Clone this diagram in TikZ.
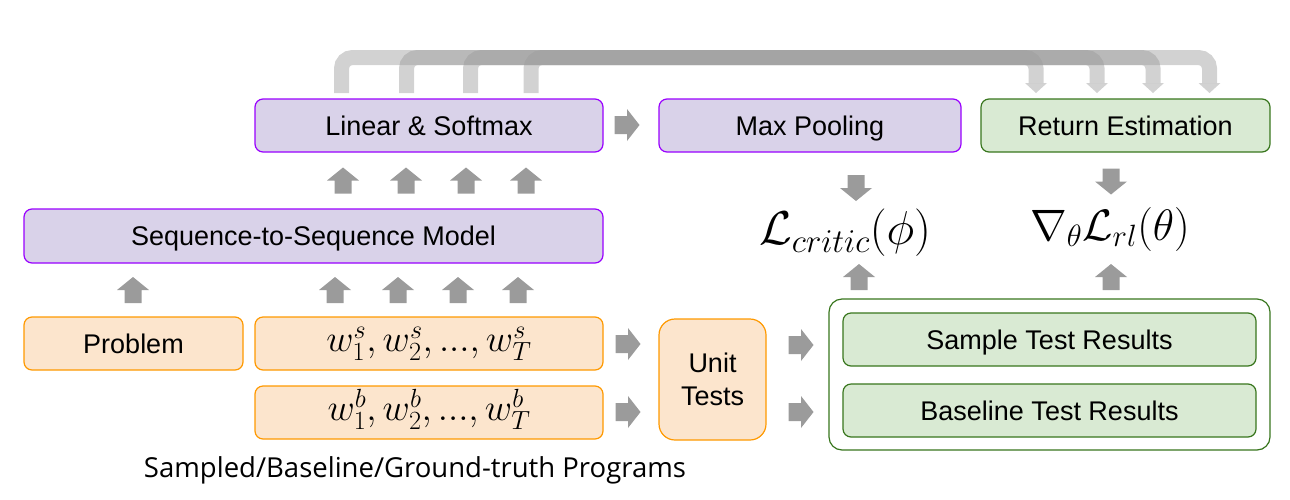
\RequirePackage{fix-cm}
\documentclass[tikz,border=0pt]{standalone}
\usepackage[no-math]{fontspec}
\setmainfont{Liberation Sans}
\newfontfamily\capfont{Open Sans}
\usetikzlibrary{calc}
\definecolor{purfill}{HTML}{D9D2E9}
\definecolor{purdraw}{HTML}{9900FF}
\definecolor{orfill}{HTML}{FCE5CD}
\definecolor{ordraw}{HTML}{FF9900}
\definecolor{grfill}{HTML}{D9EAD3}
\definecolor{grdraw}{HTML}{38761D}
\definecolor{arrgray}{HTML}{9B9B9B}
\tikzset{
  box/.style={draw, line width=1.2pt, rounded corners=8pt, inner sep=0pt,
    font=\fontsize{27}{32}\selectfont, text height=19.3pt, text depth=0pt},
  purbox/.style={box, fill=purfill, draw=purdraw},
  orbox/.style={box, fill=orfill, draw=ordraw},
  grbox/.style={box, fill=grfill, draw=grdraw},
  mathbox/.style={orbox, font=\fontsize{37.5}{43}\selectfont, text height=19.7pt, text depth=3.4pt},
  bigmath/.style={inner sep=0pt},
  archline/.style={draw=arrgray, draw opacity=0.45, line width=15pt, rounded corners=11pt},
  archhead/.style={fill=arrgray, fill opacity=0.45},
  uarr/.pic={\fill[arrgray] (-8.5,13) -- (-8.5,0) -- (-16,0) -- (0,-13) -- (16,0) -- (8.5,0) -- (8.5,13) -- cycle;},
  darr/.pic={\fill[arrgray] (-8.5,-13) -- (-8.5,0) -- (-16,0) -- (0,13) -- (16,0) -- (8.5,0) -- (8.5,-13) -- cycle;},
  rarr/.pic={\fill[arrgray] (-12.5,-9) -- (0,-9) -- (0,-16) -- (12.5,0) -- (0,16) -- (0,9) -- (-12.5,9) -- cycle;},
}
\begin{document}
\begin{tikzpicture}[x=1pt,y=-1pt]
\useasboundingbox (0,0) rectangle (1290,499);
% boxes
\node[purbox, minimum width=348pt, minimum height=53pt] (lin) at (429,125.5) {Linear \& Softmax};
\node[purbox, minimum width=302pt, minimum height=53pt] (maxp) at (810,125.5) {Max Pooling};
\node[grbox, minimum width=289pt, minimum height=53pt] (ret) at (1125.5,125.5) {Return Estimation};
\node[purbox, minimum width=579pt, minimum height=54pt] (seq) at (313.5,236) {Sequence-to-Sequence Model};
\node[orbox, minimum width=219pt, minimum height=53pt] (prob) at (133.5,343.5) {Problem};
\node[mathbox, minimum width=348pt, minimum height=53pt] (ws) at (429,343.5) {$w_1^s, w_2^s, ..., w_T^s$};
\node[mathbox, minimum width=348pt, minimum height=53pt] (wb) at (429,412.5) {$w_1^b, w_2^b, ..., w_T^b$};
\node[orbox, minimum width=107pt, minimum height=121pt, align=center, text height=, text depth=, rounded corners=16pt, font=\fontsize{27}{33.5}\selectfont] (unit) at (712.5,379.5) {Unit\\Tests};
\node[draw=grdraw, line width=1.2pt, fill=white, rounded corners=13pt, minimum width=441pt, minimum height=151pt, inner sep=0pt] (outer) at (1049.5,374.5) {};
\node[grbox, minimum width=413pt, minimum height=53pt] (samp) at (1049.5,339.5) {Sample Test Results};
\node[grbox, minimum width=413pt, minimum height=53pt] (base) at (1049.5,410.5) {Baseline Test Results};
\node[bigmath, font=\fontsize{47.5}{52}\selectfont] (lcrit) at (845,233) {$\mathcal{L}_{critic}(\phi)$};
\node[bigmath, font=\fontsize{44}{50}\selectfont] (grad) at (1110,229) {$\nabla_\theta\mathcal{L}_{rl}(\theta)$};
\node[font=\capfont\fontsize{27.5}{32}\selectfont, anchor=base, inner sep=0pt] (cap) at (415,477) {Sampled/Baseline/Ground-truth Programs};
% block arrows
\foreach \x in {343,406,466,526} \pic at (\x,180.5) {uarr};
\foreach \x in {133,335,398,458,518} \pic at (\x,290) {uarr};
\pic at (627,125) {rarr};
\pic at (856,188) {darr};
\pic at (1111,181.5) {darr};
\pic at (859,277) {uarr};
\pic at (1111,277) {uarr};
\pic at (628,344) {rarr};
\pic at (628,412) {rarr};
\pic at (801,345) {rarr};
\pic at (801,412) {rarr};
% arches
\coordinate (top) at (0,57.5);
\foreach \i/\xl/\xr in {1/341.5/1209.5, 2/406.5/1153, 3/470.5/1097, 4/531/1036} {
  \coordinate (s\i) at (\xl,93);
  \coordinate (e\i) at (\xr,93);
  \draw[archline] (s\i) -- (s\i |- top) -- (e\i |- top) -- ($(e\i)+(0,-10)$);
  \fill[archhead] ($(e\i)+(-11,-10)$) -- ($(e\i)+(11,-10)$) -- (e\i) -- cycle;
}
\end{tikzpicture}
\end{document}
